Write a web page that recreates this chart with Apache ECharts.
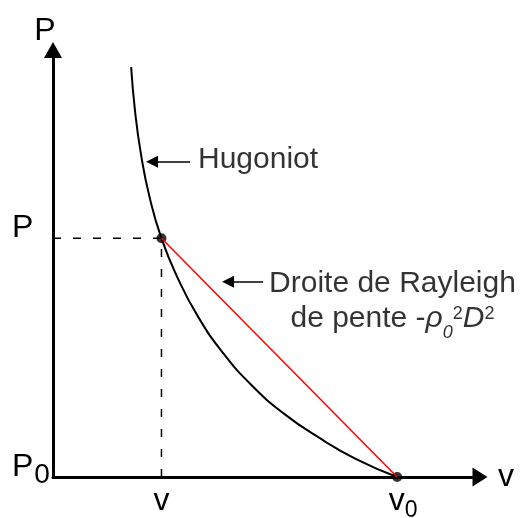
<!DOCTYPE html>
<html>
<head>
<meta charset="utf-8">
<script src="https://cdn.jsdelivr.net/npm/echarts@6/dist/echarts.min.js"></script>
<style>
  html, body { margin: 0; padding: 0; background: #fff; }
  #chart { width: 522px; height: 518px; }
</style>
</head>
<body>
<div id="chart"></div>
<script>
  // courbe d'Hugoniot (v, P)
  var curveV = [18.3, 19.2, 20.6, 22.6, 25.4, 29.3, 34.0, 39.7, 46.4, 54.0, 62.3, 71.0, 80.6];
  var curveP = [96.0, 85.8, 75.6, 65.6, 55.9, 46.4, 37.5, 29.2, 21.6, 14.9, 9.2, 4.2, 0];
  // etat choque et etat initial
  var pointV = [25.4, 80.6];
  var pointP = [55.9, 0];
  var xTickLabels = ['v', 'v0'];
  var yTickLabels = ['P0', 'P'];
  var yTickValues = [0, 55.9];

  var font = 'Liberation Sans, Arial, sans-serif';
  var chart = echarts.init(document.getElementById('chart'));

  var curve = curveV.map(function (v, i) { return [v, curveP[i]]; });
  var rayleigh = pointV.map(function (v, i) { return [v, pointP[i]]; });

  var option = {
    animation: false,
    grid: {left: 53, right: 42, top: 50, bottom: 41, outerBoundsMode: 'none'},
    xAxis: {
      type: 'value', min: 0, max: 100,
      name: 'v', nameLocation: 'end', nameGap: 26,
      nameTextStyle: {fontFamily: font, fontSize: 32, color: '#000', align: 'center', verticalAlign: 'middle'},
      axisLine: {lineStyle: {color: '#000', width: 3}, symbol: ['none', 'triangle'], symbolSize: [19, 15]},
      axisTick: {show: false},
      splitLine: {show: false},
      axisLabel: {
        customValues: pointV,
        margin: 8,
        color: '#000',
        formatter: function (value) {
          var lab = xTickLabels[pointV.indexOf(value)];
          return lab === 'v0' ? '{e|}{m|v}{s|0}' : '{m|v}';
        },
        rich: {
          m: {fontFamily: font, fontSize: 32, lineHeight: 32, color: '#000'},
          s: {fontFamily: font, fontSize: 23, lineHeight: 4, verticalAlign: 'top', padding: [14, 0, 0, 0], color: '#000'},
          e: {width: 12}
        }
      }
    },
    yAxis: {
      type: 'value', min: 0, max: 100,
      name: 'P', nameLocation: 'end', nameGap: 19,
      nameTextStyle: {fontFamily: font, fontSize: 32, color: '#000', align: 'center', verticalAlign: 'middle', padding: [0, 16, 0, 0]},
      axisLine: {lineStyle: {color: '#000', width: 3}, symbol: ['none', 'triangle'], symbolSize: [18, 16]},
      axisTick: {show: false},
      splitLine: {show: false},
      axisLabel: {
        customValues: yTickValues,
        margin: 41,
        align: 'left',
        padding: [0, 0, 20, 0],
        color: '#000',
        formatter: function (value) {
          var lab = yTickLabels[yTickValues.indexOf(value)];
          return lab === 'P0' ? '{m|P}{s|0}' : '{m|P}';
        },
        rich: {
          m: {fontFamily: font, fontSize: 32, lineHeight: 32, color: '#000'},
          s: {fontFamily: font, fontSize: 28, lineHeight: 4, verticalAlign: 'top', padding: [10, 0, 0, 1], color: '#000'}
        }
      }
    },
    series: [
      {
        // pointilles horizontaux et verticaux
        type: 'line', symbol: 'none', silent: true,
        data: [[0, pointP[0]], [pointV[0], pointP[0]]],
        lineStyle: {color: '#000', width: 1.5, type: [8, 12]}
      },
      {
        type: 'line', symbol: 'none', silent: true,
        data: [[pointV[0], 0], [pointV[0], pointP[0]]],
        lineStyle: {color: '#000', width: 1.5, type: [8, 12]}
      },
      {
        name: 'Hugoniot',
        type: 'line', symbol: 'none', smooth: 0.5, silent: true,
        data: curve,
        lineStyle: {color: '#000', width: 2},
        markLine: {
          silent: true,
          symbol: ['none', 'triangle'],
          symbolSize: [12, 12],
          label: {show: false},
          lineStyle: {color: '#000', width: 1.5, type: 'solid'},
          data: [
            [{coord: [32.1, 73.8]}, {coord: [23.2, 73.8]}],
            [{coord: [49.2, 45.7]}, {coord: [41.0, 45.7]}]
          ]
        }
      },
      {
        name: 'Rayleigh',
        type: 'line', symbol: 'none', silent: true,
        data: rayleigh,
        lineStyle: {color: '#ff0000', width: 1.5}
      },
      {
        type: 'scatter', silent: true,
        data: rayleigh,
        symbolSize: 10,
        itemStyle: {color: '#000'}
      },
      {
        // textes d'annotation
        type: 'scatter', silent: true, symbolSize: 0,
        data: [
          {value: [33.96, 74.4], label: {position: 'right', distance: 0, formatter: 'Hugoniot'}},
          {value: [79.5, 41.2], label: {
            position: 'inside', align: 'center',
            formatter: 'Droite de Rayleigh\n{m|de pente -}{i|ρ}{sub|0}{sup|2}{i|D}{sup|2}'
          }}
        ],
        label: {
          show: true, color: '#000', fontFamily: font, fontSize: 30, lineHeight: 35,
          rich: {
            m: {fontFamily: font, fontSize: 30, lineHeight: 35, color: '#000'},
            i: {fontFamily: font, fontSize: 30, lineHeight: 35, fontStyle: 'italic', color: '#000'},
            sub: {fontFamily: font, fontSize: 18, lineHeight: 4, fontStyle: 'italic', verticalAlign: 'top', padding: [23, 0, 0, 0], color: '#000'},
            sup: {fontFamily: font, fontSize: 18, lineHeight: 4, verticalAlign: 'top', padding: [4, 0, 0, 0], color: '#000'}
          }
        }
      }
    ]
  };

  chart.setOption(option);
</script>
</body>
</html>
